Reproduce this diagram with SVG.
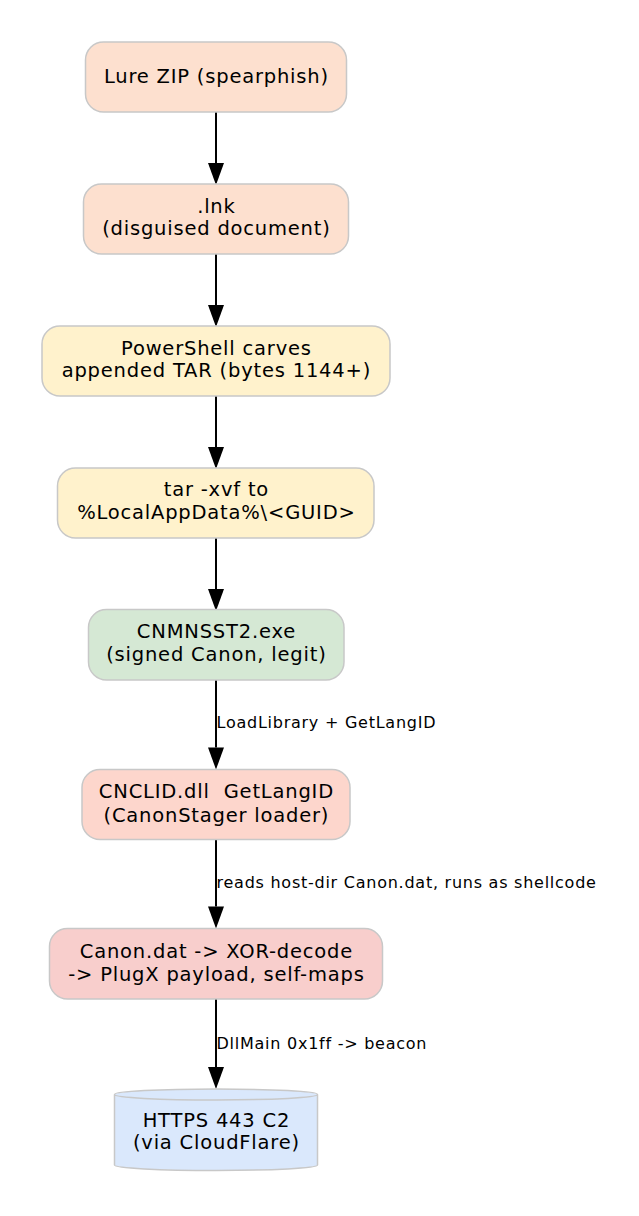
<svg xmlns="http://www.w3.org/2000/svg" width="639" height="1216" viewBox="0 0 639 1216">
<style>
.n{stroke:#c8c8c8;stroke-width:1.5}
.t{font-family:"DejaVu Sans",sans-serif;font-size:19.5px;letter-spacing:0.8px;fill:#000;text-anchor:middle;white-space:pre}
.l{font-family:"DejaVu Sans",sans-serif;font-size:16px;letter-spacing:0.75px;fill:#000;text-anchor:start}
.e{stroke:#000;stroke-width:2;fill:none;marker-end:url(#ah)}
.peach{fill:#fde0cf}
.yel{fill:#fff2cc}
.grn{fill:#d5e8d4}
.pink{fill:#fdd6cc}
.red{fill:#f8cecc}
.blue{fill:#dae8fc}
</style>
<defs>
<marker id="ah" markerUnits="userSpaceOnUse" markerWidth="22" markerHeight="16" refX="0" refY="8" orient="auto" overflow="visible">
<path d="M0,0 L22,8 L0,16 z" fill="#000"/>
</marker>
</defs>
<rect width="639" height="1216" fill="#fff"/>
<g id="connectors">
<path class="e" d="M216,112 V163"/>
<path class="e" d="M216,254 V305"/>
<path class="e" d="M216,396 V447"/>
<path class="e" d="M216,538 V589"/>
<path class="e" d="M216,680 V747.5"/>
<text class="l" x="216.5" y="727.5">LoadLibrary + GetLangID</text>
<path class="e" d="M216,839.5 V906.5"/>
<text class="l" x="216.5" y="888">reads host-dir Canon.dat, runs as shellcode</text>
<path class="e" d="M216,999 V1067"/>
<text class="l" x="216.5" y="1048.5">DllMain 0x1ff -&gt; beacon</text>
</g>
<g id="lure_zip">
<rect class="n peach" x="85.5" y="42" width="261" height="70" rx="18"/>
<text class="t" x="216.4" y="82.5">Lure ZIP (spearphish)</text>
</g>
<g id="lnk">
<rect class="n peach" x="83.5" y="184" width="265" height="70" rx="18"/>
<text class="t" x="216.4" y="213"><tspan x="216.4">.lnk</tspan><tspan x="216.4" y="234.5">(disguised document)</tspan></text>
</g>
<g id="powershell">
<rect class="n yel" x="42" y="326" width="348" height="70" rx="18"/>
<text class="t" x="216.4" y="354.5"><tspan x="216.4">PowerShell carves</tspan><tspan x="216.4" y="377">appended TAR (bytes 1144+)</tspan></text>
</g>
<g id="tar">
<rect class="n yel" x="57.5" y="468" width="316.5" height="70" rx="18"/>
<text class="t" x="216.4" y="496"><tspan x="216.4">tar -xvf to</tspan><tspan x="216.4" y="519">%LocalAppData%\&lt;GUID&gt;</tspan></text>
</g>
<g id="cnmnsst2">
<rect class="n grn" x="88.5" y="609.5" width="255.5" height="70.5" rx="18"/>
<text class="t" x="216.4" y="638"><tspan x="216.4">CNMNSST2.exe</tspan><tspan x="216.4" y="661">(signed Canon, legit)</tspan></text>
</g>
<g id="cnclid">
<rect class="n pink" x="82" y="769.5" width="268" height="70" rx="18"/>
<text class="t" x="216.4" y="798"><tspan x="216.4">CNCLID.dll  GetLangID</tspan><tspan x="216.4" y="821.5">(CanonStager loader)</tspan></text>
</g>
<g id="canon_dat">
<rect class="n red" x="49.5" y="928.5" width="333" height="70.5" rx="18"/>
<text class="t" x="216.4" y="957.5"><tspan x="216.4">Canon.dat -&gt; XOR-decode</tspan><tspan x="216.4" y="980.5">-&gt; PlugX payload, self-maps</tspan></text>
</g>
<g id="c2">
<path class="n blue" d="M317.5,1094.5 V1165 A101.5,5.5 0 0 1 114.5,1165 V1094.5 A101.5,5.5 0 0 1 317.5,1094.5 A101.5,5.5 0 0 1 114.5,1094.5"/>
<text class="t" x="216.4" y="1126.5"><tspan x="216.4">HTTPS 443 C2</tspan><tspan x="216.4" y="1148.5">(via CloudFlare)</tspan></text>
</g>
</svg>
